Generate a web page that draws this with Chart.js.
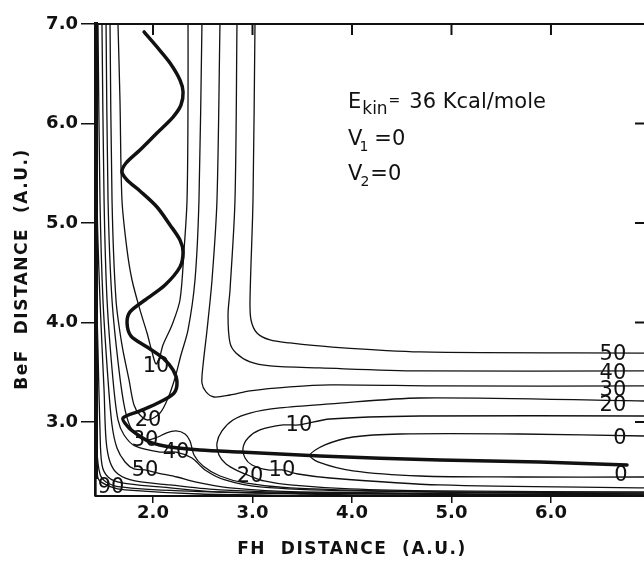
<!DOCTYPE html>
<html>
<head>
<meta charset="utf-8">
<script src="https://cdn.jsdelivr.net/npm/chart.js@4.4.1/dist/chart.umd.min.js"></script>
<style>
  html, body { margin: 0; padding: 0; background: #fff; }
  canvas { display: block; }
</style>
</head>
<body>
<canvas id="chart" width="644" height="562"></canvas>
<script>
// axis ticks (a.u.)
const xTicks = [2, 3, 4, 5, 6];
const yTicks = [3, 4, 5, 6, 7];
const rightTicks = [3, 4, 5, 6];

// contour lines, [FH, BeF] in a.u.
// entrance channel pockets
const c10Entry = [[1.648,7.0],[1.668,6.236],[1.688,5.231],[1.739,4.729],[1.789,4.427],[1.869,4.126],[1.94,3.894],[1.99,3.704],[2.03,3.583],[2.07,3.663],[2.10,3.774],[2.191,3.975],[2.271,4.226],[2.312,4.729],[2.342,5.231],[2.352,6.236],[2.352,7.0]];
const c20Entry = [[1.568,7.0],[1.588,5.231],[1.628,4.226],[1.688,3.774],[1.759,3.422],[1.809,3.171],[1.869,3.07],[1.95,3.02],[2.07,3.09],[2.151,3.241],[2.221,3.442],[2.281,3.673],[2.352,3.925],[2.422,4.427],[2.462,5.231],[2.492,7.0]];
// outer L-shaped contours (upper right plateau)
const c30Outer = [[2.673,7.0],[2.643,5.231],[2.593,4.427],[2.543,3.925],[2.503,3.573],[2.492,3.392],[2.533,3.302],[2.613,3.251],[2.774,3.271],[2.975,3.312],[3.377,3.352],[3.779,3.372],[4.884,3.362],[6.935,3.362]];
const c40Outer = [[2.844,7.0],[2.824,5.231],[2.774,4.327],[2.754,4.075],[2.774,3.794],[2.834,3.693],[2.975,3.603],[3.176,3.563],[3.678,3.543],[4.683,3.513],[6.935,3.513]];
const c50Outer = [[3.025,7.0],[3.005,5.231],[2.975,4.226],[2.985,4.025],[3.045,3.894],[3.176,3.824],[3.377,3.794],[3.779,3.754],[4.683,3.704],[6.935,3.693]];
// exit channel pockets
const c20Exit = [[6.935,3.211],[4.683,3.241],[3.779,3.181],[3.276,3.141],[2.975,3.09],[2.804,3.02],[2.693,2.91],[2.643,2.789],[2.663,2.668],[2.734,2.578],[2.854,2.508],[2.975,2.457],[3.116,2.407],[3.377,2.367],[3.98,2.327],[4.884,2.307],[6.935,2.296]];
const c10Exit = [[6.935,3.06],[4.683,3.06],[3.779,3.03],[3.467,2.97],[3.307,2.97],[3.075,2.92],[2.955,2.839],[2.905,2.739],[2.925,2.638],[2.995,2.568],[3.156,2.518],[3.296,2.518],[3.457,2.477],[3.779,2.437],[4.884,2.367],[6.935,2.337]];
const c0Exit = [[6.935,2.859],[5.688,2.879],[4.482,2.879],[4.01,2.849],[3.729,2.769],[3.578,2.668],[3.658,2.598],[4.01,2.508],[4.683,2.457],[5.688,2.447],[6.935,2.447]];
// repulsive wall contours round the corner
const c30Inner = [[1.528,7.0],[1.548,5.231],[1.588,4.226],[1.658,3.523],[1.719,3.121],[1.789,2.92],[1.92,2.819],[2.05,2.849],[2.131,2.889],[2.231,2.91],[2.322,2.879],[2.372,2.809],[2.412,2.668],[2.503,2.558],[2.673,2.457],[2.925,2.387],[3.377,2.337],[4.884,2.296],[6.935,2.286]];
const c40Inner = [[1.487,7.0],[1.508,5.231],[1.538,4.226],[1.598,3.422],[1.648,3.02],[1.709,2.869],[1.819,2.759],[2.07,2.698],[2.231,2.698],[2.392,2.638],[2.523,2.518],[2.724,2.417],[3.075,2.347],[3.98,2.307],[6.935,2.276]];
const c50Inner = [[1.447,7.0],[1.467,5.231],[1.497,4.226],[1.548,3.422],[1.588,2.97],[1.638,2.739],[1.719,2.598],[1.809,2.528],[1.92,2.518],[2.05,2.487],[2.241,2.447],[2.422,2.397],[2.774,2.337],[3.477,2.296],[6.935,2.266]];
const c60 = [[1.427,7.0],[1.437,5.231],[1.467,4.226],[1.508,3.322],[1.528,2.819],[1.568,2.598],[1.648,2.477],[1.819,2.407],[2.171,2.367],[2.673,2.317],[3.678,2.286],[6.935,2.261]];
const c70 = [[1.427,4.478],[1.447,3.724],[1.467,2.92],[1.487,2.568],[1.548,2.447],[1.688,2.387],[2.07,2.347],[2.673,2.296],[4.482,2.276],[5.5,2.262]];
const c80 = [[1.427,3.422],[1.437,2.719],[1.467,2.477],[1.528,2.397],[1.668,2.347],[2.271,2.307],[3.477,2.276],[4.5,2.262]];
const c90 = [[1.427,2.819],[1.437,2.518],[1.457,2.417],[1.578,2.347],[1.719,2.317],[2.472,2.276],[3.5,2.262]];

// classical trajectory, Ekin = 36 kcal/mole, v1 = v2 = 0
const trajectory = [[1.91,6.92],[2.04,6.769],[2.171,6.608],[2.271,6.437],[2.302,6.317],[2.281,6.186],[2.201,6.065],[2.04,5.905],[1.869,5.734],[1.729,5.603],[1.688,5.513],[1.739,5.432],[1.869,5.322],[2.04,5.161],[2.171,4.98],[2.271,4.829],[2.302,4.709],[2.271,4.558],[2.121,4.377],[1.92,4.226],[1.769,4.106],[1.739,3.995],[1.779,3.864],[1.94,3.754],[2.10,3.643],[2.201,3.523],[2.241,3.402],[2.211,3.291],[2.07,3.201],[1.869,3.111],[1.698,3.04],[1.749,2.95],[1.849,2.869],[1.99,2.789],[2.171,2.749],[2.472,2.719],[2.874,2.698],[3.678,2.658],[4.884,2.618],[5.889,2.598],[6.764,2.568]];

// contour level labels
const labelText = ['10','20','30','40','50','90','10','20','10','50','40','30','20','0','0'];
const labelX = [2.03,1.95,1.92,2.231,1.92,1.578,3.467,2.975,3.296,6.623,6.623,6.623,6.623,6.693,6.704];
const labelY = [3.57,3.02,2.82,2.698,2.518,2.347,2.97,2.457,2.518,3.683,3.492,3.322,3.171,2.839,2.467];

const contours = [c10Entry, c20Entry, c30Outer, c40Outer, c50Outer, c20Exit, c10Exit, c0Exit,
                  c30Inner, c40Inner, c50Inner, c60, c70, c80, c90];

const INK = '#111';

const datasets = contours.map(line => ({
  data: line.map(([x, y]) => ({x, y})),
  showLine: true,
  borderColor: INK,
  borderWidth: 1.3,
  pointRadius: 0,
  tension: 0.3
}));
datasets.push({
  data: trajectory.map(([x, y]) => ({x, y})),
  showLine: true,
  borderColor: INK,
  borderWidth: 3.5,
  pointRadius: 0,
  tension: 0.3,
  borderCapStyle: 'round',
  borderJoinStyle: 'round'
});

// labels go under the trajectory but over the contours
const contourLabels = {
  id: 'contourLabels',
  beforeDatasetDraw(chart, args) {
    if (args.index !== chart.data.datasets.length - 1) return;
    const {ctx, scales: {x, y}} = chart;
    ctx.save();
    ctx.font = '21px "DejaVu Sans"';
    ctx.textAlign = 'center';
    ctx.textBaseline = 'middle';
    labelText.forEach((t, i) => {
      const px = x.getPixelForValue(labelX[i]);
      const py = y.getPixelForValue(labelY[i]);
      const w = ctx.measureText(t).width + 2;
      ctx.fillStyle = '#fff';
      ctx.fillRect(px - w / 2, py - 8, w, 16);
      ctx.fillStyle = INK;
      ctx.fillText(t, px, py + 1);
    });
    ctx.restore();
  }
};

function drawRuns(ctx, x0, y0, runs) {
  let cx = x0;
  runs.forEach(r => {
    ctx.font = r.size + 'px "DejaVu Sans"';
    ctx.fillText(r.text, cx, y0 + (r.dy || 0));
    cx += ctx.measureText(r.text).width + (r.gap || 0);
  });
}

const frame = {
  id: 'frame',
  afterDraw(chart) {
    const {ctx, chartArea: a, scales: {x, y}} = chart;
    ctx.save();
    ctx.strokeStyle = INK;
    ctx.lineWidth = 2;
    ctx.beginPath();
    ctx.moveTo(a.left, a.top);
    ctx.lineTo(a.right, a.top);
    xTicks.forEach(v => {
      const px = x.getPixelForValue(v);
      ctx.moveTo(px, a.top);
      ctx.lineTo(px, a.top + 11);
    });
    rightTicks.forEach(v => {
      const py = y.getPixelForValue(v);
      ctx.moveTo(a.right, py);
      ctx.lineTo(a.right - 9, py);
    });
    ctx.stroke();

    // axis titles
    ctx.fillStyle = INK;
    ctx.font = 'bold 17px "DejaVu Sans"';
    ctx.letterSpacing = '1.5px';
    ctx.textAlign = 'center';
    ctx.textBaseline = 'middle';
    ctx.fillText('FH  DISTANCE  (A.U.)', 352, 550);
    ctx.save();
    ctx.translate(23, 269);
    ctx.rotate(-Math.PI / 2);
    ctx.fillText('BeF  DISTANCE  (A.U.)', 0, 0);
    ctx.restore();
    ctx.letterSpacing = '0px';

    // run conditions
    ctx.textAlign = 'left';
    ctx.textBaseline = 'alphabetic';
    const tx = x.getPixelForValue(3.96);
    drawRuns(ctx, tx, y.getPixelForValue(6.156), [
      {text: 'E', size: 21, gap: 1},
      {text: 'kin', size: 17, dy: 6, gap: 1},
      {text: '=', size: 14, dy: -3, gap: 9},
      {text: '36 Kcal/mole', size: 21}
    ]);
    drawRuns(ctx, tx, y.getPixelForValue(5.784), [
      {text: 'V', size: 21, gap: -3},
      {text: '1', size: 14, dy: 6, gap: 6},
      {text: '=0', size: 21}
    ]);
    drawRuns(ctx, tx, y.getPixelForValue(5.432), [
      {text: 'V', size: 21, gap: -2},
      {text: '2', size: 14, dy: 6, gap: 1},
      {text: '=0', size: 21}
    ]);
    ctx.restore();
  }
};

const tickFont = {family: 'DejaVu Sans', weight: 'bold', size: 18};

new Chart(document.getElementById('chart'), {
  type: 'scatter',
  data: {datasets},
  options: {
    responsive: false,
    animation: false,
    devicePixelRatio: 1,
    layout: {padding: {top: 24, right: 0, left: 0, bottom: 0}},
    plugins: {legend: {display: false}, tooltip: {enabled: false}},
    scales: {
      x: {
        type: 'linear',
        min: 1.427,
        max: 6.935,
        afterFit: s => { s.height = 66; },
        afterBuildTicks: s => { s.ticks = xTicks.map(v => ({value: v})); },
        ticks: {callback: v => v.toFixed(1), color: INK, font: tickFont, padding: 0, maxRotation: 0, autoSkip: false},
        grid: {drawOnChartArea: false, tickLength: 7, color: INK, lineWidth: 1.5},
        border: {color: INK, width: 2}
      },
      y: {
        type: 'linear',
        min: 2.256,
        max: 7.0,
        afterFit: s => { s.width = 96; },
        afterBuildTicks: s => { s.ticks = yTicks.map(v => ({value: v})); },
        ticks: {callback: v => v.toFixed(1), color: INK, font: tickFont, padding: 3, autoSkip: false},
        grid: {drawOnChartArea: false, tickLength: 15, color: INK, lineWidth: 1.5},
        border: {color: INK, width: 4}
      }
    }
  },
  plugins: [contourLabels, frame]
});
</script>
</body>
</html>
